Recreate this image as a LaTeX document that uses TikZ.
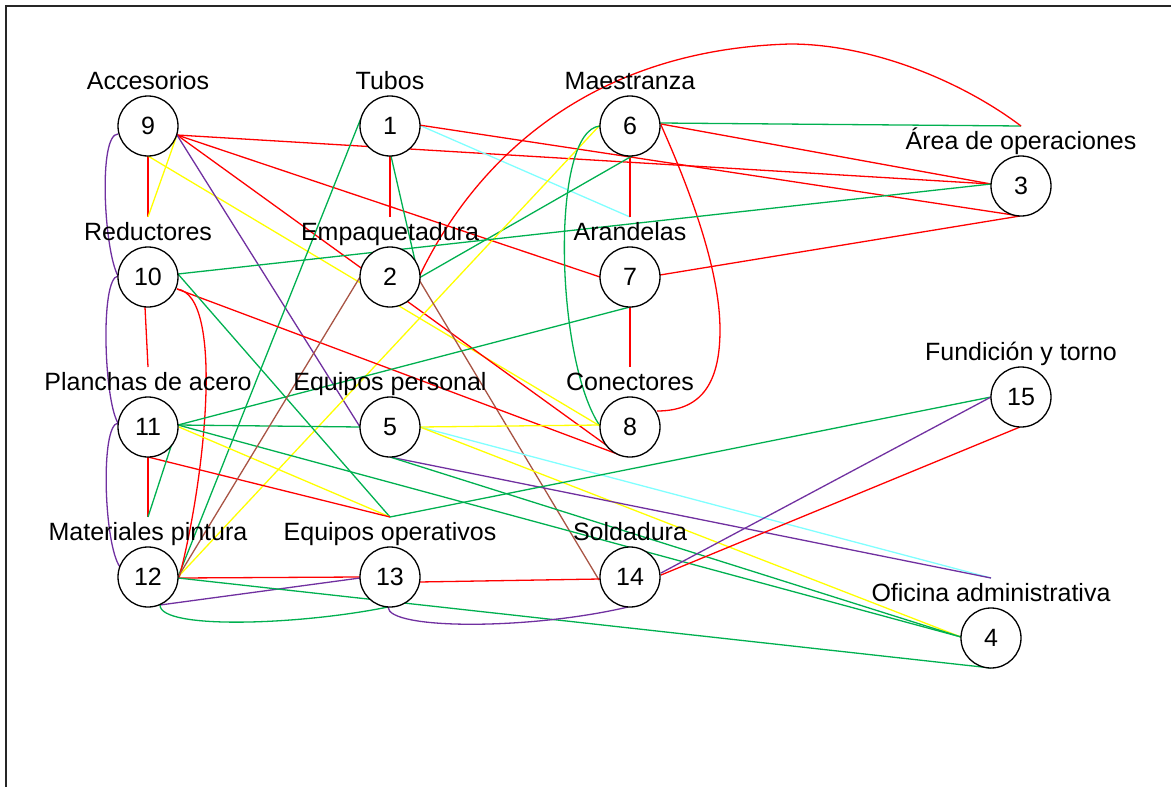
\documentclass[tikz,border=0pt]{standalone}
\usepackage{fontspec}
\setmainfont{Liberation Sans}
\usetikzlibrary{calc}
\pgfdeclarelayer{background}
\pgfsetlayers{background,main}
\definecolor{vRed}{RGB}{255,0,0}
\definecolor{vGreen}{RGB}{0,176,80}
\definecolor{vYellow}{RGB}{255,255,0}
\definecolor{vCyan}{RGB}{128,255,255}
\definecolor{vPurple}{RGB}{112,48,160}
\definecolor{vBrown}{RGB}{168,84,68}
\begin{document}
\begin{tikzpicture}[x=1pt,y=-1pt,
  vnode/.style={circle,draw,fill=white,line width=1.3pt,minimum size=60pt,inner sep=0pt,font=\fontsize{25}{30}\selectfont},
  vlabel/.style={anchor=base,inner sep=0pt,font=\fontsize{25}{30}\selectfont},
  er/.style={draw=vRed,line width=1.3pt},
  eg/.style={draw=vGreen,line width=1.3pt},
  ey/.style={draw=vYellow,line width=1.3pt},
  ec/.style={draw=vCyan,line width=1.3pt},
  ep/.style={draw=vPurple,line width=1.3pt},
  eb/.style={draw=vBrown,line width=1.3pt}]
\useasboundingbox (0,0) rectangle (1171,787);
\draw[line width=1.6pt,black!85] (6,787) -- (6,6) -- (1171,6);

% nodes
\node[vnode] (n1) at (390,126) {1};
\node[vnode] (n2) at (390,277) {2};
\node[vnode] (n3) at (1021,186) {3};
\node[vnode] (n4) at (991,638) {4};
\node[vnode] (n5) at (390,427) {5};
\node[vnode] (n6) at (630,126) {6};
\node[vnode] (n7) at (630,277) {7};
\node[vnode] (n8) at (630,427) {8};
\node[vnode] (n9) at (148,126) {9};
\node[vnode] (n10) at (148,277) {10};
\node[vnode] (n11) at (148,427) {11};
\node[vnode] (n12) at (148,577) {12};
\node[vnode] (n13) at (390,577) {13};
\node[vnode] (n14) at (630,577) {14};
\node[vnode] (n15) at (1021,397) {15};

% labels
\node[vlabel] (l1) at ($(n1)+(0,-37)$) {Tubos};
\node[vlabel] (l2) at ($(n2)+(0,-37)$) {Empaquetadura};
\node[vlabel] (l3) at ($(n3)+(0,-37)$) {Área de operaciones};
\node[vlabel] (l4) at ($(n4)+(0,-37)$) {Oficina administrativa};
\node[vlabel] (l5) at ($(n5)+(0,-37)$) {Equipos personal};
\node[vlabel] (l6) at ($(n6)+(0,-37)$) {Maestranza};
\node[vlabel] (l7) at ($(n7)+(0,-37)$) {Arandelas};
\node[vlabel] (l8) at ($(n8)+(0,-37)$) {Conectores};
\node[vlabel] (l9) at ($(n9)+(0,-37)$) {Accesorios};
\node[vlabel] (l10) at ($(n10)+(0,-37)$) {Reductores};
\node[vlabel] (l11) at ($(n11)+(0,-37)$) {Planchas de acero};
\node[vlabel] (l12) at ($(n12)+(0,-37)$) {Materiales pintura};
\node[vlabel] (l13) at ($(n13)+(0,-37)$) {Equipos operativos};
\node[vlabel] (l14) at ($(n14)+(0,-37)$) {Soldadura};
\node[vlabel] (l15) at ($(n15)+(0,-37)$) {Fundición y torno};

% label top connection points
\coordinate (t2) at ($(n2)+(0,-60)$);
\coordinate (t3) at ($(n3)+(0,-60)$);
\coordinate (t4) at ($(n4)+(0,-60)$);
\coordinate (t7) at ($(n7)+(0,-60)$);
\coordinate (t8) at ($(n8)+(0,-60)$);
\coordinate (t10) at ($(n10)+(0,-60)$);
\coordinate (t11) at ($(n11)+(0,-60)$);
\coordinate (t12) at ($(n12)+(0,-60)$);
\coordinate (t13) at ($(n13)+(0,-60)$);
\coordinate (arcTop) at (790,44);

\begin{pgfonlayer}{background}
% from 9
\draw[er] ($(n9)+(0,30)$) -- (t10);
\draw[ey] ($(n9)+(29,9)$) -- (t10);
\draw[ey] ($(n9)+(0,30)$) -- ($(n8)+(-30,-1)$);
\draw[er] ($(n9)+(29,9)$) -- ($(n3)+(-30,-2)$);
\draw[er] ($(n9)+(29,9)$) -- ($(n7)+(-30,0)$);
\draw[er] ($(n9)+(29,9)$) -- ($(n8)+(-10,28)$);
\draw[ep] ($(n9)+(29,9)$) -- ($(n5)+(-30,0)$);
\draw[ep] ($(n9)+(-30,8)$) .. controls (98,134) and (104,250) .. ($(n10)+(-30,-1)$);
% from 1
\draw[er] ($(n1)+(0,30)$) -- (t2);
\draw[eg] ($(n1)+(1,30)$) -- ($(n2)+(29,1)$);
\draw[eg] ($(n1)+(-29,-8)$) -- ($(n12)+(30,0)$);
\draw[ec] ($(n1)+(29,-1)$) -- (t7);
\draw[er] ($(n1)+(29,-1)$) -- ($(n3)+(-1,30)$);
% from 6
\draw[er] ($(n6)+(0,30)$) -- (t7);
\draw[eg] ($(n6)+(2,30)$) -- ($(n2)+(29,1)$);
\draw[ey] ($(n6)+(-30,-1)$) -- ($(n12)+(30,0)$);
\draw[eg] ($(n6)+(-30,0)$) .. controls (550,130) and (555,360) .. ($(n8)+(-30,-1)$);
\draw[er] ($(n6)+(31,-1)$) .. controls (690,190) and (720,270) .. (720,330)
   .. controls (720,385) and (700,411) .. ($(n8)+(27,-16)$);
\draw[eg] ($(n6)+(30,-3)$) -- (t3);
\draw[er] ($(n6)+(31,-2)$) -- ($(n3)+(-30,-2)$);
% from 2
\draw[er] ($(n2)+(29,0)$) .. controls (470,170) and (580,50) .. (arcTop)
   .. controls (870,44) and (960,80) .. (t3);
\draw[eb] ($(n2)+(28,1)$) -- ($(n14)+(-31,3)$);
% from 10
\draw[eg] ($(n10)+(30,-3)$) -- ($(n3)+(-30,-2)$);
\draw[er] ($(n10)+(-3,30)$) -- (t11);
\draw[er] ($(n10)+(29,12)$) .. controls (225,295) and (205,480) .. ($(n12)+(31,1)$);
\draw[er] ($(n10)+(29,12)$) -- ($(n8)+(-10,28)$);
\draw[eg] ($(n10)+(30,-3)$) -- (t13);
\draw[ep] ($(n10)+(-30,-1)$) .. controls (100,278) and (104,400) .. ($(n11)+(-30,-4)$);
% from 7
\draw[er] ($(n7)+(30,-2)$) -- ($(n3)+(-1,30)$);
\draw[er] ($(n7)+(0,30)$) -- (t8);
% from 11
\draw[eg] ($(n11)+(30,-2)$) -- ($(n7)+(0,30)$);
\draw[eg] ($(n11)+(30,-2)$) -- ($(n5)+(-30,0)$);
\draw[eg] ($(n11)+(30,-2)$) -- ($(n4)+(-30,-1)$);
\draw[ey] ($(n11)+(31,0)$) -- (t13);
\draw[er] ($(n11)+(0,30)$) -- (t13);
\draw[er] ($(n11)+(0,30)$) -- (t12);
\draw[eg] (t12) -- ($(n11)+(30,-2)$);
\draw[ep] ($(n11)+(-30,-4)$) .. controls (100,425) and (104,545) .. ($(n12)+(-28,-10)$);
% from 12
\draw[eb] ($(n12)+(30,0)$) -- ($(n2)+(-30,0)$);
\draw[er] ($(n12)+(31,1)$) -- ($(n13)+(-30,0)$);
\draw[ep] ($(n12)+(12,28)$) -- ($(n13)+(-30,1)$);
\draw[eg] ($(n12)+(12,28)$) .. controls (160,630) and (300,625) .. ($(n13)+(-2,30)$);
\draw[eg] ($(n12)+(30,1)$) -- ($(n4)+(0,30)$);
% from 5
\draw[ey] ($(n5)+(30,0)$) -- ($(n8)+(-30,-2)$);
\draw[ec] ($(n5)+(30,0)$) -- (t4);
\draw[ey] ($(n5)+(30,0)$) -- ($(n4)+(-30,-1)$);
\draw[ep] ($(n5)+(0,30)$) -- (t4);
\draw[eg] ($(n5)+(0,30)$) -- ($(n4)+(-30,-1)$);
% from 15
\draw[eg] ($(n15)+(-30,0)$) -- (t13);
\draw[ep] ($(n15)+(-30,0)$) -- ($(n14)+(31,-4)$);
\draw[er] ($(n15)+(-1,30)$) -- ($(n14)+(31,-2)$);
% from 13
\draw[ep] ($(n13)+(-2,30)$) .. controls (388,630) and (530,630) .. ($(n14)+(-2,30)$);
\draw[er] ($(n13)+(29,5)$) -- ($(n14)+(-30,2)$);
\end{pgfonlayer}
\end{tikzpicture}
\end{document}
